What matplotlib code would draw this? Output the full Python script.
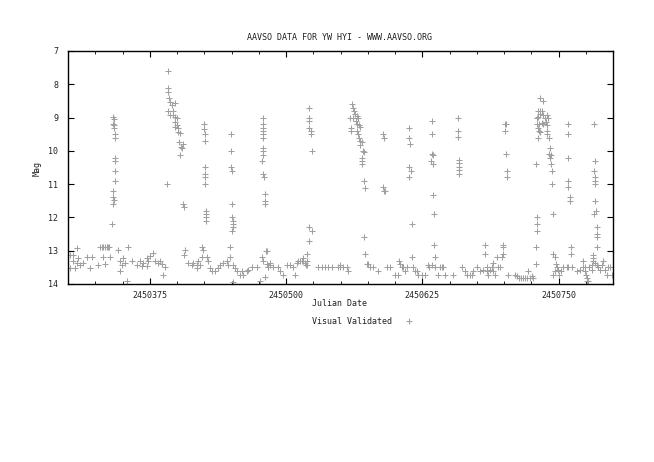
import matplotlib
matplotlib.use("Agg")
import matplotlib.pyplot as plt
from matplotlib.lines import Line2D
from matplotlib.ticker import MultipleLocator, FixedLocator

JD_BASE = 2450000

# Season 1 (days after JD 2450000, visual magnitude)
days_a = [301.8, 304.9, 308.0, 304.9, 308.0, 311.0, 314.1, 306.4, 301.8, 309.5, 320.2, 317.1, 321.7,
          329.4, 330.9, 332.4, 333.9, 335.5, 337.0, 337.9, 327.8, 332.4, 338.5, 333.9,
          341.6, 342.2, 341.6, 342.2, 342.2, 342.8, 343.1, 342.8, 342.8, 343.1, 343.4, 341.0, 341.6, 342.5, 341.0, 340.1,
          346.2, 347.7, 349.2, 347.7, 355.4, 353.8, 350.8, 352.3,
          358.4, 363.0, 366.1, 369.1, 372.2, 373.7, 375.2, 378.3, 379.8, 382.9, 384.4, 367.6, 372.2, 385.9, 387.5, 389.0,
          392.0, 391.4, 392.0, 393.0, 393.6, 395.1, 396.6, 398.2, 392.0, 393.6, 396.6, 398.2, 399.7, 398.2, 399.7,
          401.2, 398.2, 401.2, 402.8, 402.1, 403.4, 404.3, 402.8, 405.2, 391.1, 405.2, 406.4,
          407.3, 406.4, 410.4, 413.5, 415.0, 418.0, 419.6, 418.0, 421.1, 422.6, 422.6, 424.2, 427.2, 428.7, 430.3,
          431.8, 434.9, 437.9, 439.4, 442.5, 445.6, 447.1, 448.6, 448.6, 451.7, 453.2, 454.7, 457.8, 459.3, 460.9,
          463.9, 465.4, 451.1,
          424.8, 424.8, 425.4, 425.4, 426.0, 426.0, 426.0, 426.0, 426.6, 426.6, 426.6, 426.6,
          449.2, 449.8, 449.8, 450.5, 450.5, 450.5, 451.1, 451.1, 451.1, 450.5]
mag_a = [13.12, 13.12, 12.92, 13.32, 13.37, 13.42, 13.37, 13.52, 13.52, 13.22, 13.52, 13.19, 13.19,
         12.89, 12.89, 12.89, 12.89, 12.89, 12.89, 12.89, 13.42, 13.19, 13.19, 13.40,
         8.97, 9.04, 9.20, 9.22, 9.32, 9.50, 9.62, 10.22, 10.30, 10.60, 10.90, 11.20, 11.40, 11.47, 11.60, 12.20,
         12.99, 13.32, 13.42, 13.62, 12.89, 13.90, 13.22, 13.37,
         13.32, 13.42, 13.32, 13.37, 13.22, 13.32, 13.17, 13.07, 13.32, 13.37, 13.30, 13.47, 13.47, 13.40, 13.72, 13.50,
         7.60, 8.12, 8.22, 8.40, 8.52, 8.62, 8.80, 8.57, 8.80, 8.92, 8.92, 8.97, 9.02, 9.14, 9.22,
         9.32, 9.27, 9.42, 9.47, 9.72, 9.87, 9.92, 10.12, 9.80, 11.00, 11.60, 11.70,
         12.99, 13.12, 13.37, 13.42, 13.37, 13.42, 13.30, 13.52, 13.42, 13.19, 12.89, 12.99, 13.19, 13.32, 13.52,
         13.62, 13.62, 13.52, 13.42, 13.37, 13.32, 13.42, 13.19, 12.89, 13.42, 13.52, 13.62, 13.72, 13.62, 13.72,
         13.62, 13.58, 13.94,
         9.20, 9.34, 9.50, 9.70, 10.50, 10.70, 10.80, 11.00, 11.80, 11.90, 12.00, 12.10,
         9.50, 10.00, 10.50, 10.60, 11.60, 12.00, 12.10, 12.20, 12.30, 12.40]

# Season 2
days_b = [468.5, 473.1, 476.1, 480.7, 483.8, 488.4, 493.0, 494.5, 497.6, 485.3, 500.6, 503.7, 506.7, 508.3,
          509.8, 511.3, 512.8, 514.4, 515.9, 517.4, 519.0,
          478.6, 478.6, 478.6, 478.6, 478.6, 478.6, 479.2, 479.2, 479.2, 477.7, 478.6, 479.8, 480.4, 480.4, 480.4,
          481.7, 482.9, 478.0, 478.6, 482.3, 483.8, 485.3,
          521.4, 521.4, 521.4, 521.4, 522.6, 522.6, 523.9, 520.8, 523.9, 520.8, 519.6, 519.0, 518.3, 515.9,
          529.7, 532.7, 535.8, 538.8, 541.9, 549.5, 549.5, 552.6, 555.7, 557.2, 548.0,
          560.2, 561.8, 562.4, 558.7, 561.8, 564.8, 566.4, 563.3, 559.3, 559.3, 564.2, 565.4, 566.7, 567.9, 565.4,
          566.4, 567.3, 567.9, 569.4, 567.9, 570.3, 571.6, 569.7, 569.4, 569.7, 571.6, 572.2, 571.6, 572.5, 574.0,
          575.5, 577.1, 580.1, 584.7,
          589.3, 589.9, 589.3, 590.8, 589.9, 593.0, 595.4,
          600.0, 603.1, 604.0, 604.6, 606.1, 607.6, 609.2, 610.7,
          613.1, 613.1, 613.8, 613.1, 614.4, 613.1, 615.3, 615.3,
          616.8, 618.3, 619.9, 621.4, 624.5, 627.5, 630.6, 631.5, 633.6,
          633.9, 633.9, 633.9, 634.6, 633.3, 634.6, 635.2, 635.8, 635.8, 637.0,
          636.7, 639.8, 641.3]
mag_b = [13.50, 13.50, 13.90, 13.80, 13.50, 13.50, 13.50, 13.62, 13.72, 13.37, 13.42, 13.42, 13.50, 13.72,
         13.37, 13.32, 13.30, 13.32, 13.22, 13.37, 13.42,
         9.00, 9.20, 9.30, 9.40, 9.50, 9.60, 9.90, 10.00, 10.12, 10.30, 10.70, 10.80, 11.30, 11.50, 11.60,
         13.00, 13.00, 13.20, 13.30, 13.40, 13.50, 13.42,
         8.70, 9.00, 9.10, 9.30, 9.40, 9.50, 10.00, 12.30, 12.40, 12.70, 13.10, 13.30, 13.42, 13.32,
         13.50, 13.50, 13.50, 13.50, 13.50, 13.42, 13.50, 13.50, 13.50, 13.62, 13.50,
         8.60, 8.70, 8.80, 9.00, 9.00, 8.95, 9.00, 8.90, 9.30, 9.40, 9.10, 9.20, 9.22, 9.27, 9.40,
         9.50, 9.60, 9.70, 9.72, 9.82, 10.00, 10.02, 10.22, 10.30, 10.40, 10.90, 11.12, 12.60, 13.10, 13.40,
         13.40, 13.50, 13.50, 13.62,
         9.50, 9.60, 11.10, 11.20, 11.22, 13.50, 13.50,
         13.72, 13.72, 13.30, 13.40, 13.50, 13.50, 13.60, 13.50,
         9.30, 9.60, 9.80, 10.50, 10.60, 10.80, 12.20, 13.18,
         13.50, 13.60, 13.62, 13.72, 13.72, 13.72, 13.42, 13.50, 13.42,
         9.10, 9.50, 10.10, 10.12, 10.30, 10.40, 11.32, 11.90, 12.82, 13.18,
         13.50, 13.72, 13.50]

# Season 3
days_c = [642.8, 645.9, 644.3, 653.5,
          658.1, 658.1, 658.1, 659.0, 659.0, 659.0, 659.0, 659.0,
          661.2, 664.2, 666.4, 668.8, 670.3, 671.9, 674.9, 678.0, 681.0, 682.6, 682.6, 684.1, 684.1, 685.6, 687.2,
          688.7, 690.2, 690.2, 691.7, 694.8, 696.3, 693.3, 697.9, 699.4, 699.4, 699.4,
          700.9, 701.5, 700.9, 701.5, 702.4, 702.4,
          704.0, 710.1, 712.2, 714.1, 715.3, 717.7, 719.3, 721.4, 722.3, 723.9, 726.9, 725.4,
          733.0, 735.5, 731.5, 733.0, 734.6, 730.0, 731.5, 733.0, 736.1, 737.6, 739.1, 740.7, 730.6, 732.4, 734.6,
          736.1, 738.5, 739.1, 731.5, 732.4, 733.0, 731.5, 739.8, 739.8, 741.6, 742.2, 741.6, 742.8, 742.2, 742.8,
          743.7, 744.0, 744.6, 729.4, 730.0, 730.0, 730.0, 729.4, 729.4,
          745.3, 746.8, 747.7, 748.3, 749.8, 746.8, 750.8, 752.0, 754.4, 757.5, 759.0, 762.1, 745.3,
          759.0, 759.0, 759.0, 758.4, 759.0, 760.6, 760.6, 761.2, 761.2,
          766.7, 769.7, 772.2, 772.8, 774.3, 775.2, 775.8, 777.4, 775.8, 774.3, 778.3, 780.4, 780.4, 782.0, 782.0,
          782.6, 783.5, 782.6, 783.8, 783.5, 783.8, 783.8, 784.4, 782.6, 785.0, 785.0, 785.0, 785.0,
          782.0, 783.5, 785.0, 786.5, 788.1, 789.6, 791.1, 792.7, 794.2, 795.7, 797.2, 798.8, 799.7]
mag_c = [13.50, 13.72, 13.50, 13.72,
         9.00, 9.40, 9.57, 10.27, 10.37, 10.47, 10.57, 10.70,
         13.50, 13.62, 13.72, 13.72, 13.72, 13.62, 13.50, 13.62, 13.58, 12.82, 13.10, 13.50, 13.62, 13.72, 13.58,
         13.50, 13.37, 13.62, 13.72, 13.50, 13.50, 13.18, 13.18, 12.82, 12.90, 13.10,
         9.20, 9.20, 9.40, 10.10, 10.60, 10.80,
         13.72, 13.72, 13.75, 13.82, 13.82, 13.82, 13.82, 13.82, 13.62, 13.82, 13.82, 13.75,
         8.40, 8.50, 8.80, 8.80, 8.80, 9.00, 8.97, 8.90, 8.92, 9.00, 8.92, 9.00, 9.20, 9.20, 9.17,
         9.20, 9.14, 9.22, 9.30, 9.40, 9.44, 9.60, 9.40, 9.50, 9.60, 9.90, 10.10, 10.12, 10.20, 10.40,
         10.60, 11.00, 11.90, 10.40, 12.00, 12.20, 12.40, 12.90, 13.40,
         13.10, 13.20, 13.40, 13.50, 13.58, 13.62, 13.72, 13.62, 13.50, 13.50, 13.50, 13.50, 13.72,
         9.20, 9.50, 10.22, 10.90, 11.10, 11.40, 11.50, 12.90, 13.10,
         13.62, 13.58, 13.32, 13.50, 13.62, 13.72, 13.82, 13.92, 13.92, 13.50, 13.50, 13.42, 13.58, 13.22, 13.12,
         9.20, 10.30, 10.60, 10.80, 10.90, 11.00, 11.50, 11.80, 11.90, 12.30, 12.50, 12.60, 12.90,
         13.32, 13.37, 13.42, 13.50, 13.58, 13.42, 13.32, 13.58, 13.72, 13.50, 13.50, 13.72, 13.50]

x_major_ticks = [2450375, 2450500, 2450625, 2450750]
x_tick_labels = ["2450375", "2450500", "2450625", "2450750"]
y_ticks = [7, 8, 9, 10, 11, 12, 13, 14]

FONT = "DejaVu Sans Mono"
FS = 6.0
TXT = "#222222"
plt.rcParams["font.family"] = [FONT]

fig = plt.figure(figsize=(6.54, 4.62), dpi=100)
ax = fig.add_axes([68 / 654, 1 - 284 / 462, (613 - 68) / 654, (284 - 51) / 462])

pt_color = "#a0a0a0"
for d, m in ((days_a, mag_a), (days_b, mag_b), (days_c, mag_c)):
    ax.plot([JD_BASE + v for v in d], m, linestyle="none", marker="+",
            markersize=4.5, markeredgewidth=0.75, color=pt_color)

ax.set_xlim(2450300, 2450800)
ax.set_ylim(14, 7)
ax.xaxis.set_major_locator(FixedLocator(x_major_ticks))
ax.set_xticklabels(x_tick_labels)
ax.xaxis.set_minor_locator(MultipleLocator(25))
ax.set_yticks(y_ticks)
ax.set_yticklabels([str(v) for v in y_ticks])

ax.tick_params(which="both", direction="in", top=True, right=True, labelsize=FS,
               colors="black", labelcolor=TXT)
ax.tick_params(which="major", length=4, width=0.8)
ax.tick_params(which="minor", length=2, width=0.6)
ax.tick_params(axis="x", pad=5)
ax.tick_params(axis="y", pad=7)
for s in ax.spines.values():
    s.set_linewidth(1.0)
    s.set_color("black")

fig.text(340 / 654, 1 - 38 / 462, "AAVSO DATA FOR YW HYI - WWW.AAVSO.ORG",
         ha="center", va="center", fontsize=FS, color=TXT)
fig.text(340 / 654, 1 - 303 / 462, "Julian Date", ha="center", va="center",
         fontsize=FS, color=TXT)
fig.text(37 / 654, 1 - 168 / 462, "Mag", ha="center", va="center", rotation=90,
         fontsize=FS, color=TXT)

handle = Line2D([], [], linestyle="none", marker="+", markersize=4.5,
                markeredgewidth=0.75, color=pt_color)
leg = fig.legend([handle], ["Visual Validated"], loc="center",
                 bbox_to_anchor=(365 / 654, 1 - 321 / 462), bbox_transform=fig.transFigure,
                 frameon=False, markerfirst=False, fontsize=FS, handletextpad=1.0,
                 handlelength=2.0)
for t in leg.get_texts():
    t.set_color(TXT)

fig.savefig("out.png", dpi=100)
